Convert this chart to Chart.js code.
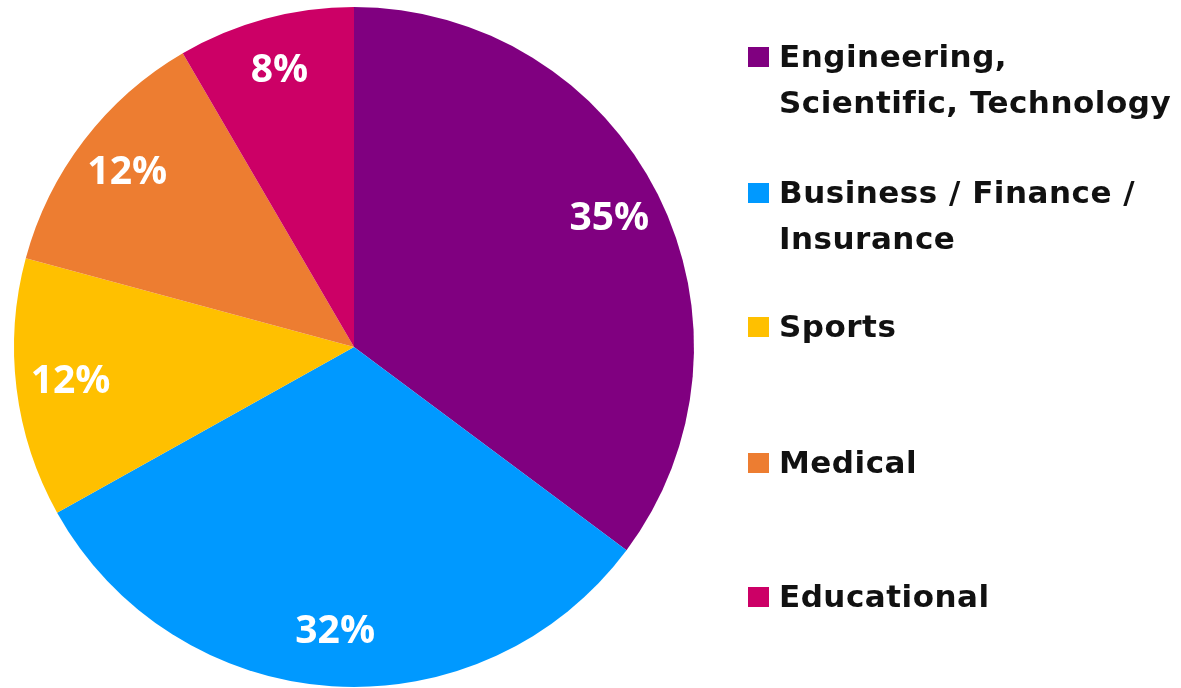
<!DOCTYPE html>
<html>
<head>
<meta charset="utf-8">
<script src="https://cdn.jsdelivr.net/npm/chart.js@4/dist/chart.umd.min.js"></script>
<style>
  html, body { margin: 0; padding: 0; background: #fff; }
  #wrap { position: relative; width: 1181px; height: 688px; }
  #legend { position: absolute; left: 748px; top: 0; font-family: "DejaVu Sans", sans-serif; font-weight: bold; font-size: 31px; letter-spacing: 0.5px; line-height: 46px; color: #111; }
  .item { position: absolute; left: 0; white-space: nowrap; }
  .box { position: absolute; left: 0; width: 21px; height: 20px; }
  .txt { position: absolute; left: 31px; top: 0; }
</style>
</head>
<body>
<div id="wrap">
  <canvas id="c" width="1181" height="688"></canvas>
  <div id="legend"></div>
</div>
<script>
const categories = ['Engineering, Scientific, Technology', 'Business / Finance / Insurance', 'Sports', 'Medical', 'Educational'];
const legendLines = [['Engineering,', 'Scientific, Technology'], ['Business / Finance /', 'Insurance'], ['Sports'], ['Medical'], ['Educational']];
const shares = [35.2, 31.7, 12.3, 12.4, 8.4];
const colors = ['#800080', '#0099FF', '#FFC000', '#ED7D31', '#CC0066'];

// legend first-line baselines
const legendBaselines = [67, 203, 337, 473, 607];

const legendEl = document.getElementById('legend');
legendLines.forEach((lines, i) => {
  const item = document.createElement('div');
  item.className = 'item';
  item.style.top = (legendBaselines[i] - 34) + 'px';
  const box = document.createElement('div');
  box.className = 'box';
  box.style.background = colors[i];
  box.style.top = '14px';
  const txt = document.createElement('div');
  txt.className = 'txt';
  txt.innerHTML = lines.join('<br>');
  item.appendChild(box);
  item.appendChild(txt);
  legendEl.appendChild(item);
});

const pctLabels = {
  id: 'pctLabels',
  afterDatasetsDraw(chart) {
    const ctx = chart.ctx;
    const meta = chart.getDatasetMeta(0);
    ctx.save();
    ctx.fillStyle = '#fff';
    ctx.font = 'bold 39px "Open Sans", sans-serif';
    ctx.textAlign = 'center';
    ctx.textBaseline = 'middle';
    meta.data.forEach((arc, i) => {
      const p = arc.getProps(['x', 'y', 'startAngle', 'endAngle', 'outerRadius'], true);
      const mid = (p.startAngle + p.endAngle) / 2;
      const r = p.outerRadius * 0.84;
      ctx.fillText(Math.round(shares[i]) + '%', p.x + Math.cos(mid) * r, p.y + Math.sin(mid) * r);
    });
    ctx.restore();
  }
};

new Chart(document.getElementById('c').getContext('2d'), {
  type: 'pie',
  data: {
    labels: categories,
    datasets: [{
      data: shares,
      backgroundColor: colors,
      borderWidth: 0
    }]
  },
  options: {
    responsive: false,
    animation: false,
    layout: { padding: { left: 14, right: 487, top: 7, bottom: 1 } },
    plugins: {
      legend: { display: false },
      tooltip: { enabled: false }
    }
  },
  plugins: [pctLabels]
});
</script>
</body>
</html>
